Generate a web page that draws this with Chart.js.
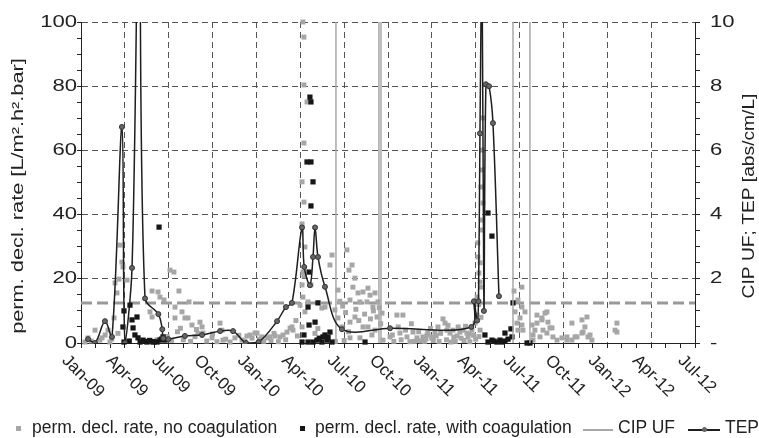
<!DOCTYPE html>
<html>
<head>
<meta charset="utf-8">
<script src="https://cdn.jsdelivr.net/npm/chart.js@4.4.0/dist/chart.umd.min.js"></script>
<style>
  body { margin: 0; background: #fff; }
  #wrap { position: relative; width: 759px; height: 438px; }
  #legend { position: absolute; left: 0; top: 417px; width: 759px; height: 20px;
            font: 17.5px "Liberation Sans", Arial, sans-serif; color: #222; }
  #legend span { position: absolute; top: 0; line-height: 20px; white-space: nowrap; }
  #legend i { position: absolute; display: block; }
</style>
</head>
<body>
<div id="wrap">
  <canvas id="chart" width="759" height="438"></canvas>
  <div id="legend"></div>
</div>
<script>
// x values are months since 1 Jan 2009 (0 = Jan-09, 42 = Jul-12)
const quarterLabels = ["Jan-09", "Apr-09", "Jul-09", "Oct-09", "Jan-10", "Apr-10", "Jul-10", "Oct-10",
  "Jan-11", "Apr-11", "Jul-11", "Oct-11", "Jan-12", "Apr-12", "Jul-12"];
const leftTicks = [0, 20, 40, 60, 80, 100];
const rightTicks = [0, 2, 4, 6, 8, 10];

const leftTitle = "perm. decl. rate [L/m².h².bar]";
const rightTitle = "CIP UF; TEP [abs/cm/L]";

// perm. decl. rate without coagulation [month, rate]
const noCoag = [
  [0.27,0.3],[0.48,1.6],[0.70,0.6],[0.96,4.0],[1.30,0.9],[1.44,1.6],[1.65,2.5],[1.85,4.0],[1.98,0.3],[2.10,1.2],
  [2.26,7.8],[2.33,18.7],[2.46,15.6],[2.53,3.0],[2.60,19.9],[2.67,30.5],[2.80,25.2],[2.87,23.7],[3.15,19.6],
  [4.72,9.7],[4.86,16.2],[4.86,8.1],[4.9,0.5],[5.2,1.0],[5.27,15.9],[5.40,14.3],[5.68,13.4],[5.9,2.0],[6.09,22.7],
  [6.2,0.8],[6.36,22.1],[6.43,11.2],[6.43,7.8],[6.6,3.5],[6.70,16.2],[6.8,4.6],[6.91,9.7],[7.0,1.0],[7.11,7.8],
  [7.32,7.8],[7.39,12.8],[7.5,0.5],[7.59,5.6],[7.8,2.0],[7.9,4.2],[8.0,3.0],[8.14,6.5],[8.28,5.0],[8.34,3.1],
  [8.6,0.6],[8.96,1.6],[9.0,2.8],[9.3,0.4],[9.51,6.2],[9.64,4.0],[9.71,0.9],[9.9,1.2],[10.2,0.3],[10.53,1.6],
  [10.8,2.4],[11.01,0.9],[11.2,0.6],[11.35,2.2],[11.56,2.5],[11.7,1.5],[11.90,3.1],
  [12.04,3.1],[12.2,1.2],[12.38,1.9],[12.5,0.5],[12.72,1.6],[12.93,1.9],[13.0,0.8],[13.2,3.0],[13.27,2.2],[13.5,0.4],
  [13.61,1.9],[13.82,2.5],[14.0,1.0],[14.09,3.4],[14.30,4.6],[14.43,5.0],[14.50,4.0],[14.7,7.0],[14.8,2.2],
  [14.98,11.8],[15.12,5.0],[15.12,18.1],[15.18,14.3],[15.25,20.9],[15.32,9.7],[15.53,12.8],[15.73,18.1],
  [15.18,100],[15.25,95.3],[15.25,80.4],[15.46,75.1],[15.25,62.3],[15.12,50.2],[15.25,43.9],[15.12,37.1],
  [15.32,29.9],[15.18,22.1],[16.0,3.0],[16.2,4.5],[16.48,10.9],[16.69,11.2],[16.9,1.0],[17.03,24.3],[17.17,27.4],
  [17.37,10.3],[17.4,0.5],[17.58,16.5],[17.58,7.8],[17.7,13.0],[17.85,5.0],[17.9,11.5],[18.0,0.8],[18.1,9.5],
  [18.19,29.0],[18.3,3.5],[18.33,22.7],[18.40,13.4],[18.40,6.5],[18.40,1.6],[18.54,24.3],[18.60,17.4],[18.74,20.2],
  [18.74,8.1],[18.8,10.5],[18.95,15.6],[19.0,7.0],[19.08,12.8],[19.08,1.6],[19.29,15.9],[19.29,5.0],[19.4,9.0],
  [19.56,12.8],[19.63,17.1],[19.63,5.0],[19.77,14.9],[19.8,7.5],[19.9,2.5],[19.97,11.2],[20.0,10.0],[20.11,15.6],
  [20.11,4.0],[20.25,8.1],[20.31,12.8],[20.4,11.0],[20.5,6.0],[20.59,9.3],[20.66,0.9],[21.14,1.9],[21.3,2.5],
  [21.4,0.5],[21.61,8.7],[21.7,5.0],[21.82,3.1],[21.9,1.0],[22.02,8.7],[22.2,4.0],[22.30,1.9],[22.5,0.4],
  [22.6,6.0],[22.71,3.4],[22.8,0.5],[22.98,1.6],[23.0,0.8],[23.1,3.5],[23.3,0.6],[23.39,1.9],[23.5,0.5],
  [23.6,1.2],[23.67,2.5],[23.73,3.1],[23.9,4.5],[24.0,1.5],[24.01,1.9],[24.1,0.8],[24.21,3.4],[24.3,2.2],
  [24.42,5.0],[24.5,0.5],[24.6,3.0],[24.76,7.5],[24.90,6.2],[25.0,1.0],[25.03,4.0],[25.1,5.5],[25.24,3.1],
  [25.3,0.3],[25.44,4.0],[25.5,1.8],[25.6,0.5],[25.72,2.2],[25.8,5.0],[25.92,3.4],[26.0,1.5],[26.13,4.0],
  [26.2,0.8],[26.3,5.2],[26.40,3.1],[26.47,1.9],[26.55,2.8],[26.6,0.4],[26.74,4.0],[26.85,2.4],[26.95,6.2],
  [27.0,1.2],[27.09,8.7],[27.09,14.3],[27.15,31.2],[27.15,26.8],[27.2,12.0],[27.22,21.8],[27.22,2.0],[27.3,25.0],
  [27.3,19.0],[27.3,4.0],[27.36,17.4],[27.36,8.0],[27.50,70.1],[27.43,60.1],[27.43,53.9],[27.36,48.6],[27.50,43.6],
  [27.43,38.3],[27.43,35.2],
  [29.62,16.2],[29.69,9.7],[29.82,6.2],[29.89,13.4],[29.89,4.0],[30.03,7.8],[30.16,17.4],[30.16,11.2],[30.16,5.6],
  [30.23,4.0],[30.37,9.7],[30.85,5.6],[30.92,2.5],[30.92,0.9],[31.05,4.0],[31.19,6.2],[31.19,8.7],[31.40,1.9],
  [31.53,7.2],[31.53,7.8],[31.60,4.0],[31.74,9.3],[31.87,9.7],[31.87,3.1],[31.94,6.5],[32.08,4.7],[32.22,4.7],
  [32.28,1.9],[32.56,0.9],[32.90,1.6],[33.24,0.9],[33.24,1.9],[33.58,6.2],[33.58,0.9],[33.79,1.9],[33.93,1.9],
  [34.27,7.2],[34.27,3.1],[34.34,3.4],[34.47,5.0],[34.61,8.1],[34.68,1.9],[34.82,2.5],[34.95,0.9],
  [36.53,4.0],[36.66,6.2],[36.66,3.4]
];

// perm. decl. rate with coagulation [month, rate]
const withCoag = [
  [2.87,5.0],[2.94,10.0],[2.94,0.3],[3.3,0.6],[3.35,11.8],[3.49,7.2],[3.56,4.7],[3.69,2.5],[3.83,8.1],[3.90,1.6],
  [4.04,0.3],[4.24,0.9],[4.4,0.5],[4.51,0.3],[4.7,0.8],[4.92,0.3],[5.0,0.4],[5.20,0.3],[5.34,36.1],[5.40,0.9],
  [5.5,1.2],[5.61,1.9],[5.75,0.9],
  [15.12,0.3],[15.25,2.5],[15.46,56.4],[15.53,11.2],[15.53,0.3],[15.60,22.1],[15.60,5.6],[15.66,76.6],[15.73,75.1],
  [15.73,56.4],[15.73,42.7],[15.87,50.2],[15.87,0.3],[16.01,6.5],[16.14,0.9],[16.21,12.5],[16.3,1.5],[16.48,0.3],
  [16.55,1.9],[16.69,2.5],[16.83,0.9],[16.9,1.8],[17.03,3.4],[17.17,0.3],[19.43,0.3],
  [27.63,2.5],[27.84,40.5],[27.84,0.3],[28.11,33.3],[28.11,0.9],[28.25,0.6],[28.45,0.3],[28.66,0.9],[28.80,0.3],
  [29.00,0.6],[29.00,3.1],[29.21,1.2],[29.41,4.4],[29.48,1.9],[29.55,12.5],[30.51,0.0],[30.71,0.0]
];

// CIP UF events (month)
const cipMonths = [17.44, 20.38, 20.52, 29.55, 30.71];
const cipHeight = 10;

// TEP [abs/cm/L]
const tepMonths = [0.48, 0.96, 1.64, 2.12, 2.80, 3.01, 3.49, 3.97, 4.38, 5.29, 5.56, 5.63, 5.97, 7.11, 8.28,
  9.51, 10.40, 11.29, 12.15, 13.41, 14.02, 14.43, 15.12, 15.27, 15.66, 15.87, 16.01, 16.21, 16.69, 17.85,
  21.14, 26.70, 26.88, 27.10, 27.19, 27.29, 27.43, 27.56, 27.70, 27.91, 28.18, 28.59];
const tepValues = [0.12, 0.0, 0.68, 0.19, 6.73, 0.0, 2.34, 14, 1.39, 0.9, 0.43, 0.15, 0.12, 0.22, 0.25,
  0.37, 0.37, 0.0, 0.03, 0.68, 1.12, 1.25, 3.6, 2.37, 1.8, 2.68, 3.6, 2.68, 1.75, 0.43,
  0.46, 0.5, 1.3, 0.7, 1.3, 6.53, 12, 1.0, 8.06, 8.0, 6.85, 1.46];

// horizontal dashed reference level (left axis)
const refLevel = 12.5;

const FONT = '"Liberation Sans", Arial, sans-serif';
Chart.defaults.font.family = FONT;
Chart.defaults.font.size = 17;
Chart.defaults.color = "#222";

const cipData = [];
cipMonths.forEach(m => { cipData.push({x: m, y: 0}, {x: m, y: cipHeight}, {x: m, y: null}); });

// the original axis texts are drawn wide, so stretch them along their reading direction
function wideText(ctx, text, x, y, align, sx) {
  const w = ctx.measureText(text).width * sx;
  const x0 = align === "right" ? x - w : (align === "center" ? x - w / 2 : x);
  ctx.save();
  ctx.translate(x0, y);
  ctx.scale(sx, 1);
  ctx.textAlign = "left";
  ctx.fillText(text, 0, 0);
  ctx.restore();
}

const axisText = {
  id: "axisText",
  afterDraw(chart) {
    const ctx = chart.ctx;
    const {x: xs, y: ys, y2} = chart.scales;
    const midY = 196;
    ctx.save();
    ctx.fillStyle = "#222";
    ctx.textBaseline = "middle";

    // rotated quarter labels, centred on their tick
    ctx.font = "17px " + FONT;
    ctx.textAlign = "left";
    quarterLabels.forEach((lab, i) => {
      const w = ctx.measureText(lab).width;
      ctx.save();
      ctx.translate(xs.getPixelForValue(i * 3) - w * Math.SQRT1_2 / 2 + 2, xs.top + 15);
      ctx.rotate(Math.PI / 4);
      ctx.fillText(lab, 0, 0);
      ctx.restore();
    });

    // value labels
    leftTicks.forEach(v => wideText(ctx, String(v), ys.left + ys.width - 4, ys.getPixelForValue(v), "right", 1.3));
    rightTicks.forEach(v => wideText(ctx, v === 0 ? "-" : String(v), y2.left + 15, y2.getPixelForValue(v), "left", 1.3));

    // axis titles, both read bottom to top
    ctx.font = "16px " + FONT;
    ctx.save();
    ctx.translate(19, midY);
    ctx.rotate(-Math.PI / 2);
    wideText(ctx, leftTitle, 0, 0, "center", 1.36);
    ctx.restore();
    ctx.save();
    ctx.translate(750, midY);
    ctx.rotate(-Math.PI / 2);
    wideText(ctx, rightTitle, 0, 0, "center", 1.2);
    ctx.restore();
    ctx.restore();
  }
};

const chart = new Chart(document.getElementById("chart"), {
  type: "line",
  data: {
    datasets: [
      {
        label: "TEP",
        data: tepMonths.map((m, i) => ({x: m, y: tepValues[i]})),
        yAxisID: "y2",
        borderColor: "#1e1e1e",
        borderWidth: 1.5,
        tension: 0.35,
        pointRadius: 2.5,
        pointBackgroundColor: "#666",
        pointBorderColor: "#333",
        pointBorderWidth: 1,
        order: 0,
      },
      {
        label: "CIP UF",
        data: cipData,
        yAxisID: "y2",
        borderColor: "#a8a8a8",
        borderWidth: 1.5,
        pointRadius: 0,
        spanGaps: false,
        order: 1,
      },
      {
        label: "perm. decl. rate, with coagulation",
        data: withCoag.map(p => ({x: p[0], y: p[1]})),
        yAxisID: "y",
        showLine: false,
        pointStyle: "rect",
        pointRadius: 3.7,
        pointBackgroundColor: "#161616",
        pointBorderWidth: 0,
        clip: 6,
        order: 2,
      },
      {
        label: "perm. decl. rate, no coagulation",
        data: noCoag.map(p => ({x: p[0], y: p[1]})),
        yAxisID: "y",
        showLine: false,
        pointStyle: "rect",
        pointRadius: 3.5,
        pointBackgroundColor: "#a6a6a6",
        pointBorderWidth: 0,
        clip: 6,
        order: 3,
      },
      {
        label: "ref",
        data: [{x: 0, y: refLevel}, {x: 42, y: refLevel}],
        yAxisID: "y",
        borderColor: "#999",
        borderWidth: 3,
        borderDash: [11, 5],
        pointRadius: 0,
        order: 4,
      },
    ],
  },
  options: {
    responsive: false,
    animation: false,
    events: [],
    layout: { padding: { top: 22, left: 0, right: 0, bottom: 0 } },
    plugins: { legend: { display: false }, tooltip: { enabled: false } },
    scales: {
      x: {
        type: "linear",
        min: 0,
        max: 42,
        afterFit: s => { s.height = 95; },
        ticks: { display: false, stepSize: 1 },
        grid: {
          color: c => (c.tick.value % 3 === 0 && c.tick.value > 0 && c.tick.value < 42) ? "#555" : "rgba(0,0,0,0)",
          tickColor: "#222",
          tickLength: 5,
        },
        border: { color: "#222", width: 1, dash: [6, 4] },
      },
      y: {
        position: "left",
        min: 0,
        max: 100,
        afterFit: s => { s.width = 81; },
        ticks: { display: false, stepSize: 5, maxTicksLimit: 100 },
        grid: {
          color: c => (c.tick.value % 20 === 0 && c.tick.value > 0) ? "#555" : "rgba(0,0,0,0)",
          tickColor: "#222",
          tickLength: 4,
        },
        border: { color: "#222", width: 1, dash: [6, 4] },
      },
      y2: {
        position: "right",
        min: 0,
        max: 10,
        afterFit: s => { s.width = 64; },
        ticks: { display: false, stepSize: 0.5, maxTicksLimit: 100 },
        grid: { drawOnChartArea: false, tickColor: "#222", tickLength: 5 },
        border: { color: "#222", width: 1 },
      },
    },
  },
  plugins: [axisText],
});

// HTML legend built from the datasets
const legendSpots = {
  "perm. decl. rate, no coagulation": { mark: "square", markX: 16, textX: 32 },
  "perm. decl. rate, with coagulation": { mark: "square", markX: 300, textX: 315 },
  "CIP UF": { mark: "line", markX: 583, markW: 30, textX: 618 },
  "TEP": { mark: "dotline", markX: 688, markW: 32, textX: 725 },
};
const legendEl = document.getElementById("legend");
["perm. decl. rate, no coagulation", "perm. decl. rate, with coagulation", "CIP UF", "TEP"].forEach(name => {
  const ds = chart.data.datasets.find(d => d.label === name);
  const spot = legendSpots[name];
  if (spot.mark === "square") {
    const sq = document.createElement("i");
    sq.style.cssText = `left:${spot.markX}px;top:9px;width:5px;height:5px;background:${ds.pointBackgroundColor}`;
    legendEl.appendChild(sq);
  } else {
    const ln = document.createElement("i");
    ln.style.cssText = `left:${spot.markX}px;top:12px;width:${spot.markW}px;height:1.5px;background:${ds.borderColor}`;
    legendEl.appendChild(ln);
    if (spot.mark === "dotline") {
      const dot = document.createElement("i");
      dot.style.cssText = `left:${spot.markX + spot.markW / 2 - 2.5}px;top:10px;width:5px;height:5px;border-radius:50%;background:${ds.pointBackgroundColor}`;
      legendEl.appendChild(dot);
    }
  }
  const txt = document.createElement("span");
  txt.style.left = spot.textX + "px";
  txt.textContent = name;
  legendEl.appendChild(txt);
});
</script>
</body>
</html>
